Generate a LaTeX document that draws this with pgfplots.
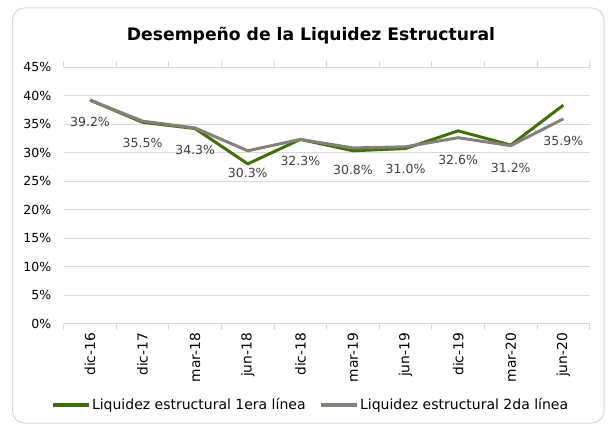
\documentclass[border=0pt]{standalone}
\usepackage{fontspec}
\setmainfont{DejaVu Sans}
\usepackage{pgfplots}
\pgfplotsset{compat=1.18}
\definecolor{lgreen}{RGB}{65,112,8}
\definecolor{lgray}{RGB}{130,130,122}
\definecolor{gridc}{RGB}{217,217,217}
\definecolor{txt}{RGB}{64,64,64}
\begin{document}
\begin{tikzpicture}[x=1bp,y=1bp]
\useasboundingbox (0,0) rectangle (609,425);
\draw[gridc, line width=1bp, rounded corners=12bp] (12.5,2) rectangle (604,417);
\node[font=\fontsize{17.2bp}{20bp}\selectfont\bfseries] at (311,389.5) {Desempeño de la Liquidez Estructural};
\begin{axis}[at={(63.7bp,101.5bp)}, anchor=south west, scale only axis,
  width=525.9bp, height=256.5bp,
  xmin=-0.5, xmax=9.5, ymin=0, ymax=45,
  axis line style={draw=none},
  ytick={0,5,...,45}, ymajorgrids, grid style={gridc, line width=1bp},
  major tick length=0bp, minor tick length=6bp, tick align=outside,
  major x tick style={draw=none}, ytick style={draw=none},
  minor x tick style={draw=gridc, line width=1bp},
  minor xtick={-0.5,0.5,...,9.5},
  xtick={0,...,9},
  xticklabels={dic-16,dic-17,mar-18,jun-18,dic-18,mar-19,jun-19,dic-19,mar-20,jun-20},
  xticklabel style={rotate=90, anchor=east, font=\fontsize{13.8bp}{15bp}\selectfont},
  xticklabel shift=6bp,
  yticklabel={\pgfmathprintnumber{\tick}\%},
  yticklabel style={font=\fontsize{12.5bp}{15bp}\selectfont, xshift=-9bp},
  /pgf/number format/assume math mode=true,
  legend style={at={(0.469,-0.318)}, anchor=center, draw=none, fill=none,
    legend columns=2, font=\fontsize{14bp}{16bp}\selectfont,
    nodes={inner xsep=1bp},
    /tikz/every even column/.append style={column sep=13bp}},
  legend image code/.code={\draw[#1, line width=3.5bp] (0bp,0bp) -- (36bp,0bp);},
  clip=false,
]
\addplot[lgreen, line width=3bp, line join=round] coordinates {
  (0,39.2) (1,35.3) (2,34.2) (3,28.0) (4,32.3) (5,30.3) (6,30.7) (7,33.8) (8,31.3) (9,38.3)};
\addlegendentry{Liquidez estructural 1era línea}
\addplot[lgray, line width=3bp, line join=round,
  nodes near coords={\pgfmathprintnumber[fixed,precision=1,fixed zerofill]{\pgfplotspointmeta}\%},
  every node near coord/.append style={anchor=center, yshift=-22bp, text=txt,
    font=\fontsize{12.5bp}{15bp}\selectfont}] coordinates {
  (0,39.2) (1,35.5) (2,34.3) (3,30.3) (4,32.3) (5,30.8) (6,31.0) (7,32.6) (8,31.2) (9,35.9)};
\addlegendentry{Liquidez estructural 2da línea}
\end{axis}
\end{tikzpicture}
\end{document}
